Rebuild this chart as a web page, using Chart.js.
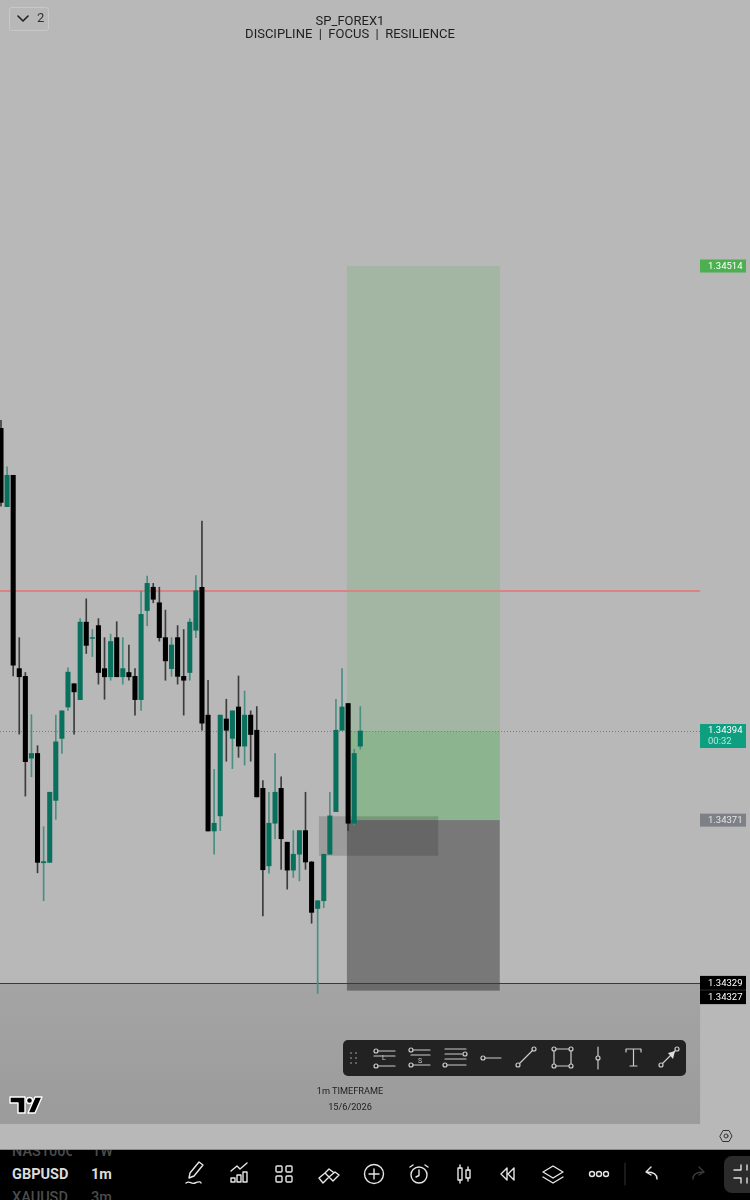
<!DOCTYPE html>
<html>
<head>
<meta charset="utf-8">
<title>GBPUSD 1m</title>
<script src="https://cdn.jsdelivr.net/npm/chart.js@4"></script>
<style>
  html, body { margin: 0; padding: 0; background: #b8b8b8; }
  #wrap { position: relative; width: 750px; height: 1200px; overflow: hidden; font-family: Roboto, sans-serif; }
  #chart { position: absolute; left: 0; top: 0; }
  .t { position: absolute; white-space: pre; }
  #title { left: 0; width: 700px; top: 14px; text-align: center; color: #1e1e1e; font-size: 13px; line-height: 13px; }
  #mark { left: 0; width: 700px; top: 1083px; text-align: center; color: #222; font-size: 9.2px; line-height: 16px; }
  #chip { position: absolute; left: 9px; top: 7px; width: 38px; height: 22px; border: 1px solid #c8c8c8; border-radius: 3px; }
  #chipNum { left: 37px; top: 10px; font-size: 13px; color: #333; }
  #bar { position: absolute; left: 0; top: 1149px; width: 750px; height: 51px; background: #000; overflow: hidden; border-top: 1px solid #8a8a8a; box-sizing: border-box; }
  #bar .t { font-weight: 700; font-size: 14.5px; }
  #icons { position: absolute; left: 0; top: 0; }
</style>
</head>
<body>
<div id="wrap">
  <canvas id="chart" width="750" height="1200"></canvas>
  <div id="chip"></div>
  <div id="chipNum" class="t">2</div>
  <div id="title" class="t">SP_FOREX1
DISCIPLINE  |  FOCUS  |  RESILIENCE</div>
  <div id="mark" class="t">1m TIMEFRAME
15/6/2026</div>
  <div id="bar">
    <div class="t" style="left:12px;top:-7px;color:#4c4c4c;font-weight:500;width:60px;overflow:hidden">NAS100C</div>
    <div class="t" style="left:92px;top:-7px;color:#4c4c4c;font-weight:500">1W</div>
    <div class="t" style="left:12px;top:16px;color:#dcdcdc">GBPUSD</div>
    <div class="t" style="left:91px;top:16px;color:#dcdcdc">1m</div>
    <div class="t" style="left:12px;top:39px;color:#4c4c4c;font-weight:500">XAUUSD</div>
    <div class="t" style="left:91px;top:39px;color:#4c4c4c;font-weight:500">3m</div>
  </div>
  <svg id="icons" width="750" height="1200" fill="none" stroke-linecap="round" stroke-linejoin="round">
    <!-- legend chevron -->
    <path d="M18 16l5 5 5-5" stroke="#222" stroke-width="1.6"/>
    <!-- logo -->
    <g fill="#000" stroke="#fff" stroke-width="1.4">
      <path d="M10 1097h15v16h-7v-10h-8z"/>
      <circle cx="29.500" cy="1100.500" r="3"/>
      <path d="M35 1097h7l-7 16h-7z"/>
    </g>
    <!-- settings -->
    <path d="M720 1136l3-5.500h6l3 5.500-3 5.500h-6z" stroke="#333" stroke-width="1"/>
    <circle cx="726" cy="1136" r="2" stroke="#333"/>
    <!-- floating toolbar -->
    <rect x="343" y="1040" width="343" height="36" rx="5" fill="#222"/>
    <g fill="#777"><circle cx="351" cy="1053" r="1"/><circle cx="356" cy="1053" r="1"/><circle cx="351" cy="1058" r="1"/><circle cx="356" cy="1058" r="1"/><circle cx="351" cy="1063" r="1"/><circle cx="356" cy="1063" r="1"/></g>
    <g stroke="#ccc" stroke-width="1.2">
      <circle cx="376" cy="1051" r="2"/><path d="M378 1051h17M374 1056h21M378 1066h17"/><circle cx="376" cy="1066" r="2"/>
      <circle cx="411" cy="1050" r="2"/><path d="M413 1050h17M411 1055h19M413 1065h17"/><circle cx="411" cy="1065" r="2"/>
      <path d="M445 1049h21M445 1054h17M445 1059h21M447 1065h19"/><circle cx="465" cy="1054" r="2"/><circle cx="445" cy="1065" r="2"/>
      <circle cx="483" cy="1058" r="2"/><path d="M485 1058h16"/>
      <circle cx="518" cy="1065" r="2"/><circle cx="534" cy="1049" r="2"/><path d="M519.500 1063.500l13-13"/>
      <rect x="554" y="1049" width="17" height="17"/><circle cx="554" cy="1049" r="2" fill="#222"/><circle cx="571" cy="1049" r="2" fill="#222"/><circle cx="554" cy="1066" r="2" fill="#222"/><circle cx="571" cy="1066" r="2" fill="#222"/>
      <path d="M598 1047v22"/><circle cx="598" cy="1058" r="2" fill="#222"/>
      <path d="M626 1052v-3h15v3M633.500 1049v17M630 1066h7"/>
      <circle cx="661" cy="1065" r="2"/><circle cx="677" cy="1049" r="2"/><path d="M662.500 1063.500l13-13"/>
    </g>
    <path d="M668 1053l7-2-2 8z" fill="#ddd"/>
    <text x="384" y="1060" font-family="Roboto" font-size="7" fill="#ccc" text-anchor="middle">L</text>
    <text x="420" y="1063" font-family="Roboto" font-size="7" fill="#ccc" text-anchor="middle">S</text>
    <!-- bottom bar icons -->
    <g stroke="#e6e6e6" stroke-width="1.4">
      <path d="M190 1173l9-11 4 3-9 11-5 2zM186 1183c4-3 5 2 9 0s6-1 6 0"/>
      <path d="M231 1171l6-5 3 3 7-6M231 1182v-4h4v4zM237 1182v-7h4v7zM243 1182v-10h4v10z"/>
      <rect x="276" y="1166" width="6" height="6" rx="1"/><rect x="286" y="1166" width="6" height="6" rx="1"/><rect x="276" y="1176" width="6" height="6" rx="1"/><rect x="286" y="1176" width="6" height="6" rx="1"/>
      <path d="M319 1178l6-5 4 4 6-5 4 3-6 6-4-4-6 6zM325 1173l4-4 4 3"/>
      <circle cx="374" cy="1174" r="9.500"/><path d="M374 1169v10M369 1174h10"/>
      <circle cx="419" cy="1175" r="8"/><path d="M419 1170v5.500l-3 1.500M410 1167l3-2M428 1167l-3-2"/>
      <rect x="458" y="1168" width="4" height="12"/><path d="M460 1165v3M460 1180v3"/><rect x="466" y="1170" width="4" height="8"/><path d="M468 1167v3M468 1178v3"/>
      <path d="M507 1168l-6 6 6 6zM514 1168l-6 6 6 6z"/>
      <path d="M553 1166l10 6-10 6-10-6zM543 1177l10 6 10-6"/>
      <circle cx="592" cy="1174" r="2.500"/><circle cx="599" cy="1174" r="2.500"/><circle cx="606" cy="1174" r="2.500"/>
      <path d="M657 1179c0-5-3-7-10-7M651 1167l-5 5 5 3"/>
    </g>
    <path d="M625 1163v22" stroke="#333"/>
    <path d="M693 1179c0-5 3-7 10-7M699 1167l5 5-5 3" stroke="#3a3a3a" stroke-width="1.4"/>
    <rect x="724" y="1156" width="40" height="37" rx="8" fill="#2b2b2b"/>
    <path d="M741 1165v5h-7M741 1183v-5h-7M747 1165v5M747 1183v-5" stroke="#ddd" stroke-width="1.4"/>
  </svg>
</div>
<script>
  // GBPUSD 1m candles
  var opens = [
    1.344721, 1.344519, 1.344600, 1.344101, 1.344081, 1.343870, 1.343882, 1.343600, 1.343601, 1.343761,
    1.343921, 1.344002, 1.344062, 1.344021, 1.344221, 1.344179, 1.344212, 1.344101, 1.344080, 1.344181,
    1.344080, 1.344091, 1.344081, 1.344021, 1.344251, 1.344311, 1.344271, 1.344181, 1.344101, 1.344181,
    1.344081, 1.344091, 1.344200, 1.344311, 1.343981, 1.343682, 1.343721, 1.343971, 1.343921, 1.344002,
    1.343901, 1.343981, 1.343942, 1.343792, 1.343592, 1.343702, 1.343792, 1.343653, 1.343581, 1.343622,
    1.343683, 1.343602, 1.343482, 1.343502, 1.343622, 1.343732, 1.343942, 1.344011, 1.343702, 1.343901
  ];
  var highs = [
    1.344742, 1.344622, 1.344600, 1.344181, 1.344091, 1.343982, 1.343902, 1.343693, 1.343782, 1.343981,
    1.343992, 1.344103, 1.344062, 1.344230, 1.344281, 1.344202, 1.344230, 1.344181, 1.344190, 1.344222,
    1.344181, 1.344162, 1.344101, 1.344301, 1.344340, 1.344321, 1.344311, 1.344252, 1.344181, 1.344212,
    1.344202, 1.344230, 1.344341, 1.344482, 1.344071, 1.343841, 1.343981, 1.344022, 1.343992, 1.344082,
    1.344043, 1.343992, 1.344003, 1.343812, 1.343782, 1.343882, 1.343822, 1.343653, 1.343683, 1.343683,
    1.343782, 1.343603, 1.343502, 1.343622, 1.343782, 1.344022, 1.344101, 1.344011, 1.343893, 1.344003
  ];
  var lows = [
    1.344520, 1.344519, 1.344082, 1.343932, 1.343772, 1.343822, 1.343574, 1.343502, 1.343601, 1.343712,
    1.343882, 1.343993, 1.343932, 1.344021, 1.344140, 1.344132, 1.344061, 1.344022, 1.344071, 1.344080,
    1.344061, 1.344071, 1.343981, 1.343993, 1.344212, 1.344271, 1.344172, 1.344071, 1.344081, 1.344061,
    1.343981, 1.344071, 1.344181, 1.343942, 1.343682, 1.343622, 1.343683, 1.343862, 1.343843, 1.343872,
    1.343852, 1.343862, 1.343770, 1.343463, 1.343573, 1.343662, 1.343583, 1.343532, 1.343562, 1.343553,
    1.343583, 1.343444, 1.343263, 1.343484, 1.343622, 1.343732, 1.343942, 1.343683, 1.343697, 1.343893
  ];
  var closes = [
    1.344530, 1.344600, 1.344110, 1.344080, 1.343861, 1.343882, 1.343601, 1.343603, 1.343782, 1.343912,
    1.343992, 1.344092, 1.344041, 1.344221, 1.344161, 1.344181, 1.344091, 1.344080, 1.344171, 1.344080,
    1.344101, 1.344080, 1.344021, 1.344241, 1.344321, 1.344280, 1.344181, 1.344121, 1.344162, 1.344081,
    1.344071, 1.344221, 1.344302, 1.343960, 1.343682, 1.343702, 1.343981, 1.343942, 1.343992, 1.343901,
    1.343981, 1.343931, 1.343770, 1.343582, 1.343702, 1.343782, 1.343662, 1.343581, 1.343622, 1.343683,
    1.343602, 1.343472, 1.343502, 1.343622, 1.343721, 1.343942, 1.344002, 1.343702, 1.343882, 1.343940
  ];

  // Price tags on the right
  var tagPrices = [1.34514, 1.34394, 1.34371, 1.34329, 1.34327];
  var tagLabels = ["1.34514", "1.34394", "1.34371", "1.34329", "1.34327"];
  var countdown = "00:32";
  var tagColors = ["#4caf50", "#0e9f80", "#7e8088", "#000000", "#000000"];

  // Long position drawing, prices and bar numbers
  var targetPrice = 1.34514;
  var entryPrice = 1.34371;
  var stopPrice = 1.34327;
  var lastPrice = 1.34394;
  var positionBars = [56.8, 81.9];
  var boxBars = [52.2, 71.8];
  var boxPrices = [1.34372, 1.343618];
  var redLevel = 1.344301;
  var supportLevel = 1.34329;
  var bandBottom = 1.342926;
  var plotEndBar = 114.8;

  var UP = "#08705c", DOWN = "#000000";
  var UP_WICK = "#4a8f82", DOWN_WICK = "#3c3c3c";

  var upFlags = opens.map(function (o, i) { return closes[i] >= o; });

  var overlays = {
    id: "overlays",
    beforeDatasetsDraw: function (chart) {
      var c = chart.ctx, x = chart.scales.x, y = chart.scales.y;
      function rect(b0, b1, p0, p1, fill) {
        c.fillStyle = fill;
        c.fillRect(x.getPixelForValue(b0), y.getPixelForValue(p0),
          x.getPixelForValue(b1) - x.getPixelForValue(b0), y.getPixelForValue(p1) - y.getPixelForValue(p0));
      }
      function hline(p, color, width, dash) {
        var py = Math.round(y.getPixelForValue(p)) + (width === 2 ? 0 : 0.5);
        c.save();
        c.strokeStyle = color;
        c.lineWidth = width;
        c.setLineDash(dash || []);
        c.beginPath();
        c.moveTo(0, py);
        c.lineTo(x.getPixelForValue(plotEndBar), py);
        c.stroke();
        c.restore();
      }
      c.save();
      // grey band below the support line
      var g = c.createLinearGradient(0, y.getPixelForValue(supportLevel), 0, y.getPixelForValue(bandBottom));
      g.addColorStop(0, "#a4a4a4");
      g.addColorStop(1, "#9b9b9b");
      rect(x.min, plotEndBar, supportLevel, bandBottom, g);
      // position tool
      rect(positionBars[0], positionBars[1], targetPrice, entryPrice, "rgba(76,175,80,0.2)");
      rect(positionBars[0], positionBars[1], lastPrice, entryPrice, "rgba(76,175,80,0.25)");
      rect(positionBars[0], positionBars[1], entryPrice, stopPrice, "rgba(0,0,0,0.35)");
      rect(boxBars[0], boxBars[1], boxPrices[0], boxPrices[1], "rgba(0,0,0,0.15)");
      c.restore();
      hline(redLevel, "#dc8282", 2);
      hline(lastPrice, "#35a08a", 1, [1, 2]);
      hline(supportLevel, "#3a3a3a", 1);
    },
    afterDatasetsDraw: function (chart) {
      var c = chart.ctx, y = chart.scales.y;
      c.save();
      c.font = "9.5px Roboto";
      c.textBaseline = "middle";
      c.textAlign = "left";
      tagPrices.forEach(function (p, i) {
        var py = y.getPixelForValue(p);
        var top = py - 6.5, h = 13;
        if (i === 1) { top = py - 7; h = 24; }
        if (i === 3) { top = py - 7; h = 14; }
        if (i === 4) { top = py - 0.5; py = py + 6.5; h = 14; }
        c.fillStyle = tagColors[i];
        c.fillRect(700, top, 46, h);
        c.fillStyle = i === 2 ? "#e4e4e4" : "#ffffff";
        c.fillText(tagLabels[i], 708, i === 1 ? py - 0.5 : py + 0.5);
        if (i === 1) {
          c.fillStyle = "#b6e6d8";
          c.fillText(countdown, 708, py + 11);
        }
      });
      c.restore();
    },
  };

  var candles = opens.map(function (o, i) { return { x: i, y: [o, closes[i]] }; });
  var wicks = opens.map(function (o, i) { return { x: i, y: [lows[i], highs[i]] }; });

  new Chart(document.getElementById("chart"), {
    type: "bar",
    data: {
      datasets: [
        {
          label: "Body",
          data: candles,
          order: 1,
          grouped: false,
          barThickness: 4.4,
          backgroundColor: upFlags.map(function (u) { return u ? UP : DOWN; }),
        },
        {
          label: "Wick",
          data: wicks,
          order: 2,
          grouped: false,
          barThickness: 1,
          backgroundColor: upFlags.map(function (u) { return u ? UP_WICK : DOWN_WICK; }),
        },
      ],
    },
    options: {
      responsive: false,
      animation: false,
      devicePixelRatio: 1,
      layout: { padding: 0 },
      plugins: { legend: { display: false }, tooltip: { enabled: false } },
      scales: {
        x: { type: "linear", display: false, offset: false, min: -0.164, max: 122.99 },
        y: { type: "linear", display: false, min: 1.3427297, max: 1.3458265 },
      },
    },
    plugins: [overlays],
  });
</script>
</body>
</html>
